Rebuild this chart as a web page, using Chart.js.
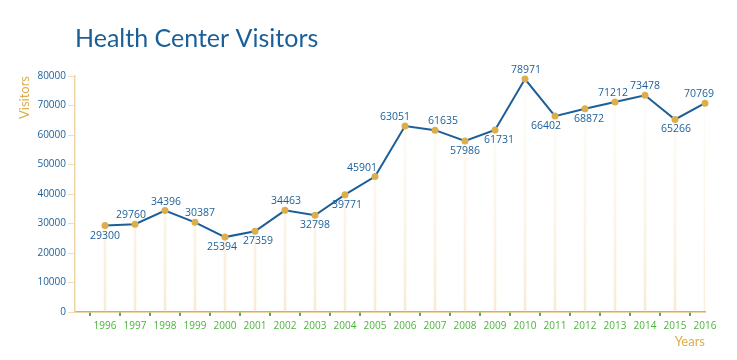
<!DOCTYPE html>
<html>
<head>
<meta charset="utf-8">
<script src="https://cdn.jsdelivr.net/npm/chart.js@4"></script>
<style>
  html, body { margin: 0; padding: 0; background: #fff; }
  #wrap { width: 737px; height: 360px; }
</style>
</head>
<body>
<div id="wrap"><canvas id="visitorsChart"></canvas></div>
<script>
// Data
const years = [1996, 1997, 1998, 1999, 2000, 2001, 2002, 2003, 2004, 2005, 2006,
               2007, 2008, 2009, 2010, 2011, 2012, 2013, 2014, 2015, 2016];
const visitors = [29300, 29760, 34396, 30387, 25394, 27359, 34463, 32798, 39771, 45901, 63051,
                  61635, 57986, 61731, 78971, 66402, 68872, 71212, 73478, 65266, 70769];
const yTicks = [0, 10000, 20000, 30000, 40000, 50000, 60000, 70000, 80000];

// where each value label sits relative to its point (style only)
const labelSide = ['below', 'above', 'above', 'above', 'below', 'below', 'above', 'below', 'below', 'above', 'above',
                   'above', 'below', 'below', 'above', 'below', 'below', 'above', 'above', 'below', 'above'];
const labelDx = [0, -4, 1, 5, -3, 3, 1, 0, 2, -13, -10, 8, 0, 4, 1, -9, 4, -2, 0, 1, -6];

const blue = '#1c5f98';
const gold = '#dcae4c';
const green = '#4cb33c';

const points = years.map((y, i) => ({ x: y, y: visitors[i] }));

// small plugin that writes the value next to each point
const valueLabels = {
    id: 'valueLabels',
    afterDatasetsDraw(chart) {
        const meta = chart.getDatasetMeta(0);
        const ctx = chart.ctx;
        ctx.save();
        ctx.font = '10.5px "Open Sans", sans-serif';
        ctx.fillStyle = blue;
        ctx.textAlign = 'center';
        ctx.textBaseline = 'middle';
        meta.data.forEach((pt, i) => {
            const dy = labelSide[i] === 'above' ? -9 : 10;
            ctx.fillText(String(visitors[i]), pt.x + labelDx[i], pt.y + dy);
        });
        ctx.restore();
    }
};

const ctx = document.getElementById('visitorsChart').getContext('2d');
const visitorsChart = new Chart(ctx, {
    data: {
        datasets: [{
            type: 'line',
            data: points,
            borderColor: blue,
            borderWidth: 2,
            pointBackgroundColor: gold,
            pointBorderColor: gold,
            pointRadius: 2.5,
            tension: 0,
            clip: false,
            order: 0
        }, {
            // thin drop lines from each point down to the axis
            type: 'bar',
            data: points,
            barThickness: 2,
            backgroundColor: (c) => {
                const area = c.chart.chartArea;
                if (!area) return 'rgba(232,196,130,0.2)';
                const g = c.chart.ctx.createLinearGradient(0, area.top, 0, area.bottom);
                g.addColorStop(0, 'rgba(245,220,170,0.04)');
                g.addColorStop(1, 'rgba(232,196,130,0.32)');
                return g;
            },
            order: 1
        }]
    },
    options: {
        responsive: true,
        maintainAspectRatio: false,
        animation: false,
        layout: { padding: { left: 0, right: 32, top: 0, bottom: 0 } },
        plugins: {
            legend: { display: false },
            tooltip: { enabled: false },
            title: {
                display: true,
                text: 'Health Center Visitors',
                align: 'start',
                fullSize: false,
                color: blue,
                font: { family: 'Lato, "Open Sans", sans-serif', size: 25, weight: 'normal' },
                padding: { top: 24, bottom: 22 }
            }
        },
        scales: {
            x: {
                type: 'linear',
                offset: false,
                min: 1995,
                max: 2016,
                afterBuildTicks: (scale) => {
                    scale.ticks = years.map(y => ({ value: y }));
                },
                afterFit: (scale) => { scale.height = 48; },
                ticks: {
                    color: green,
                    font: { family: '"Open Sans", sans-serif', size: 10 },
                    padding: 4,
                    maxRotation: 0,
                    autoSkip: false,
                    callback: (v) => String(v)
                },
                grid: { drawOnChartArea: false, color: green, tickLength: 4, lineWidth: 2 },
                border: { color: gold, width: 1.5 },
                title: {
                    display: true,
                    text: 'Years',
                    align: 'end',
                    color: gold,
                    font: { family: 'Lato, "Open Sans", sans-serif', size: 13 },
                    padding: { top: 0, bottom: 10 }
                }
            },
            y: {
                min: 0,
                max: 80000,
                afterBuildTicks: (scale) => {
                    scale.ticks = yTicks.map(v => ({ value: v }));
                },
                afterFit: (scale) => { scale.width = 75; },
                ticks: {
                    color: blue,
                    font: { family: '"Open Sans", sans-serif', size: 10 },
                    padding: 2,
                    callback: (v) => String(v)
                },
                grid: { drawOnChartArea: false, color: 'rgba(232,196,130,0.6)', tickLength: 7 },
                border: { color: '#efd6a4', width: 1.5 },
                title: {
                    display: true,
                    text: 'Visitors',
                    align: 'end',
                    color: gold,
                    font: { family: 'Lato, "Open Sans", sans-serif', size: 13 },
                    padding: { top: 17, bottom: 0 }
                }
            }
        }
    },
    plugins: [valueLabels]
});
</script>
</body>
</html>
